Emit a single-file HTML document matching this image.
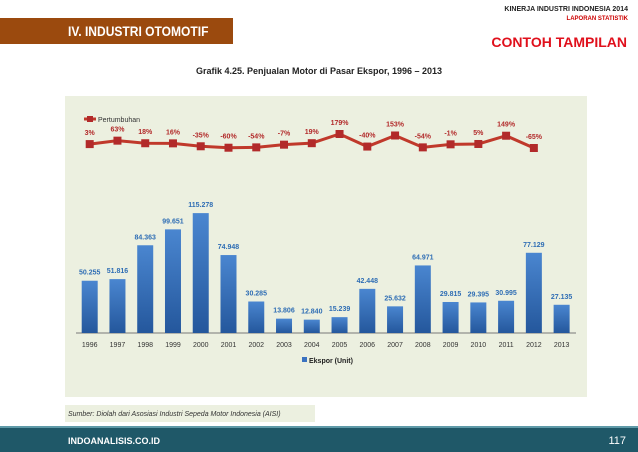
<!DOCTYPE html>
<html><head><meta charset="utf-8"><style>
body{margin:0;width:638px;height:452px;background:#fff;position:relative;overflow:hidden;font-family:"Liberation Sans",sans-serif}
.a{position:absolute}
</style></head><body>
<div class="a" style="left:0;top:18px;width:233px;height:26px;background:#9b4a0e;"></div>
<div class="a" style="left:68px;top:23px;color:#fff;font-weight:bold;font-size:14px;white-space:nowrap;transform:scaleX(0.86);transform-origin:0 0;">IV. INDUSTRI OTOMOTIF</div>
<div class="a" style="right:10px;top:6px;font-size:7px;font-weight:bold;color:#222;">KINERJA INDUSTRI INDONESIA 2014</div>
<div class="a" style="right:10px;top:16px;font-size:6px;font-weight:bold;color:#c00;">LAPORAN STATISTIK</div>
<div class="a" style="right:11px;top:34px;font-size:14px;font-weight:bold;color:#e0101c;">CONTOH TAMPILAN</div>
<div class="a" style="left:0;width:638px;text-align:center;top:66px;font-size:9px;font-weight:bold;color:#222;">Grafik 4.25. Penjualan Motor di Pasar Ekspor, 1996 – 2013</div>
<svg class="a" style="left:0;top:0" width="638" height="452">
<defs><linearGradient id="g" x1="0" y1="0" x2="0" y2="1"><stop offset="0" stop-color="#4a86d0"/><stop offset="1" stop-color="#24579c"/></linearGradient></defs>
<rect x="65" y="96" width="522" height="301" fill="#ecf0e0"/>
<line x1="76" y1="333" x2="576" y2="333" stroke="#777" stroke-width="1"/>
<g id="bars"></g><g id="line"></g>
<line x1="84" y1="119" x2="96" y2="119" stroke="#c0392b" stroke-width="3"/>
<rect x="87" y="116" width="6" height="6" fill="#b22a2a"/>
<text x="98" y="122" font-size="7" fill="#333">Pertumbuhan</text>
<rect x="302" y="357" width="5" height="5" fill="#3a72c0"/>
<text x="309" y="363" font-size="7" font-weight="bold" fill="#222">Ekspor (Unit)</text>
<rect x="65" y="405" width="250" height="17" fill="#ecf0e0"/>
<text x="68" y="416" font-size="7" font-style="italic" fill="#333">Sumber: Diolah dari Asosiasi Industri Sepeda Motor Indonesia (AISI)</text>
<rect x="0" y="427" width="638" height="25" fill="#1f5868"/>
<rect x="0" y="426" width="638" height="2" fill="#5f9aa8"/>
<text x="68" y="444" font-size="9" font-weight="bold" fill="#fff">INDOANALISIS.CO.ID</text>
<text x="626" y="444" font-size="11" fill="#fff" text-anchor="end">117</text>
</svg>
<script>
const years=[1996,1997,1998,1999,2000,2001,2002,2003,2004,2005,2006,2007,2008,2009,2010,2011,2012,2013];
const ekspor=[50.255,51.816,84.363,99.651,115.278,74.948,30.285,13.806,12.840,15.239,42.448,25.632,64.971,29.815,29.395,30.995,77.129,27.135];
const exportLabels=["50.255","51.816","84.363","99.651","115.278","74.948","30.285","13.806","12.840","15.239","42.448","25.632","64.971","29.815","29.395","30.995","77.129","27.135"];
const growth=[3,63,18,16,-35,-60,-54,-7,19,179,-40,153,-54,-1,5,149,-65];
const NS='http://www.w3.org/2000/svg';
function xs(i){return 89.7+i*27.76;}
function yb(v){return 333-v*1.04;}
function yl(v){return 148-(v+65)*14/244;}
function mk(t,a,p){const e=document.createElementNS(NS,t);for(const k in a)e.setAttribute(k,a[k]);p.appendChild(e);return e;}
const gb=document.getElementById('bars'),gl=document.getElementById('line');
years.forEach((y,i)=>{
 const r=mk('rect',{x:xs(i)-8,y:yb(ekspor[i]),width:16,height:333-yb(ekspor[i]),fill:'url(#g)'},gb);
 
 
 const t=mk('text',{x:xs(i),y:yb(ekspor[i])-6,'font-size':7,'font-weight':'bold',fill:'#2e6db4','text-anchor':'middle'},gb);t.textContent=exportLabels[i];
 
 
 const yt=mk('text',{x:xs(i),y:347,'font-size':7,fill:'#333','text-anchor':'middle'},gb);yt.textContent=y;
 
 
});
const pts=growth.map((g,i)=>xs(i)+','+yl(g)).join(' ');
const pl=mk('polyline',{points:pts,fill:'none',stroke:'#c0392b','stroke-width':3},gl);


growth.forEach((g,i)=>{
 const m=mk('rect',{x:xs(i)-4,y:yl(g)-4,width:8,height:8,fill:'#b22a2a'},gl);
 
 
 const t=mk('text',{x:xs(i),y:yl(g)-9,'font-size':7,'font-weight':'bold',fill:'#b22a2a','text-anchor':'middle'},gl);t.textContent=g+'%';
 
 
});
</script>
</body></html>
